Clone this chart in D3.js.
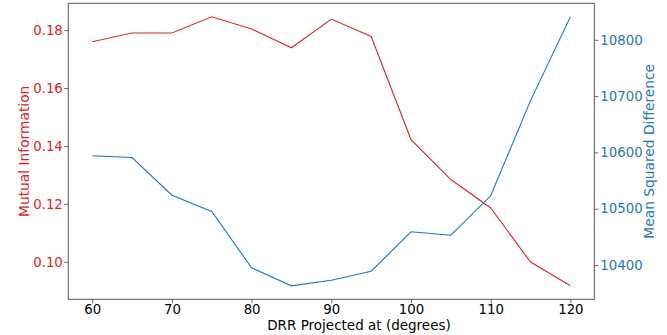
<!DOCTYPE html>
<html>
<head>
  <title>Mutual information vs MSD</title>
</head>
<style>
  body, html { margin: 0; padding: 0; background: #fff; }
  svg text { font-family: "DejaVu Sans", sans-serif; }
</style>
<body>
  <svg id="svg" width="667" height="335"></svg>
  <script src="https://d3js.org/d3.v7.min.js"></script>
  <script>
    // data
    const angles = [60, 65, 70, 75, 80, 85, 90, 95, 100, 105, 110, 115, 120]
    const mutualInfo = [0.1760, 0.1790, 0.1790, 0.1846, 0.1804, 0.1739, 0.1838, 0.1778, 0.1422, 0.1284, 0.1186, 0.0999, 0.0917]
    const msd = [10594, 10591, 10524, 10495, 10395, 10363, 10373, 10389, 10459, 10453, 10523, 10692, 10841]
    const xTicks = [60, 70, 80, 90, 100, 110, 120]
    const leftTicks = [0.10, 0.12, 0.14, 0.16, 0.18]
    const rightTicks = [10400, 10500, 10600, 10700, 10800]

    const red = '#d62728'
    const blue = '#1f77b4'

    const m = { left: 68.3, right: 594.3, top: 3.3, bottom: 299.3 }
    const svg = d3.select('#svg')

    const xscale = d3.scaleLinear().domain([57, 123]).range([m.left, m.right])
    const ext1 = d3.extent(mutualInfo), pad1 = (ext1[1] - ext1[0]) * 0.05
    const y1 = d3.scaleLinear().domain([ext1[0] - pad1, ext1[1] + pad1]).range([m.bottom, m.top])
    const ext2 = d3.extent(msd), pad2 = (ext2[1] - ext2[0]) * 0.05
    const y2 = d3.scaleLinear().domain([ext2[0] - pad2, ext2[1] + pad2]).range([m.bottom, m.top])

    // axes
    const xAxis = svg.append('g')
      .attr('transform', `translate(0,${m.bottom})`)
      .call(d3.axisBottom(xscale).tickValues(xTicks).tickSize(4).tickPadding(1.5))
    xAxis.selectAll('text').attr('fill', '#000').style('font-size', '13.3px')

    const lAxis = svg.append('g')
      .attr('transform', `translate(${m.left},0)`)
      .call(d3.axisLeft(y1).tickValues(leftTicks).tickFormat(d3.format('.2f')).tickSize(4).tickPadding(1.5))
    lAxis.selectAll('text').attr('fill', red).style('font-size', '13.3px')

    const rAxis = svg.append('g')
      .attr('transform', `translate(${m.right},0)`)
      .call(d3.axisRight(y2).tickValues(rightTicks).tickFormat(d3.format('d')).tickSize(4).tickPadding(2))
    rAxis.selectAll('text').attr('fill', blue).style('font-size', '13.3px')

    svg.selectAll('.domain').remove()
    svg.selectAll('.tick line').attr('stroke', '#444').attr('stroke-width', 0.8)

    // frame
    svg.append('rect')
      .attr('x', m.left).attr('y', m.top)
      .attr('width', m.right - m.left).attr('height', m.bottom - m.top)
      .attr('fill', 'none').attr('stroke', '#555').attr('stroke-width', 1)

    // lines
    const line1 = d3.line().x((d, i) => xscale(angles[i])).y(d => y1(d))
    const line2 = d3.line().x((d, i) => xscale(angles[i])).y(d => y2(d))

    svg.append('path')
      .attr('d', line1(mutualInfo))
      .attr('fill', 'none').attr('stroke', red).attr('stroke-width', 1.1)

    svg.append('path')
      .attr('d', line2(msd))
      .attr('fill', 'none').attr('stroke', blue).attr('stroke-width', 1.1)

    // labels
    svg.append('text')
      .attr('x', 359).attr('y', 330)
      .attr('text-anchor', 'middle').style('font-size', '13.5px')
      .text('DRR Projected at (degrees)')

    svg.append('text')
      .attr('transform', `translate(29,${(m.top + m.bottom) / 2}) rotate(-90)`)
      .attr('text-anchor', 'middle').attr('fill', red).style('font-size', '13.8px')
      .text('Mutual Information')

    svg.append('text')
      .attr('transform', `translate(654,${(m.top + m.bottom) / 2}) rotate(-90)`)
      .attr('text-anchor', 'middle').attr('fill', blue).style('font-size', '13.8px')
      .text('Mean Squared Difference')
  </script>
</body>
</html>
